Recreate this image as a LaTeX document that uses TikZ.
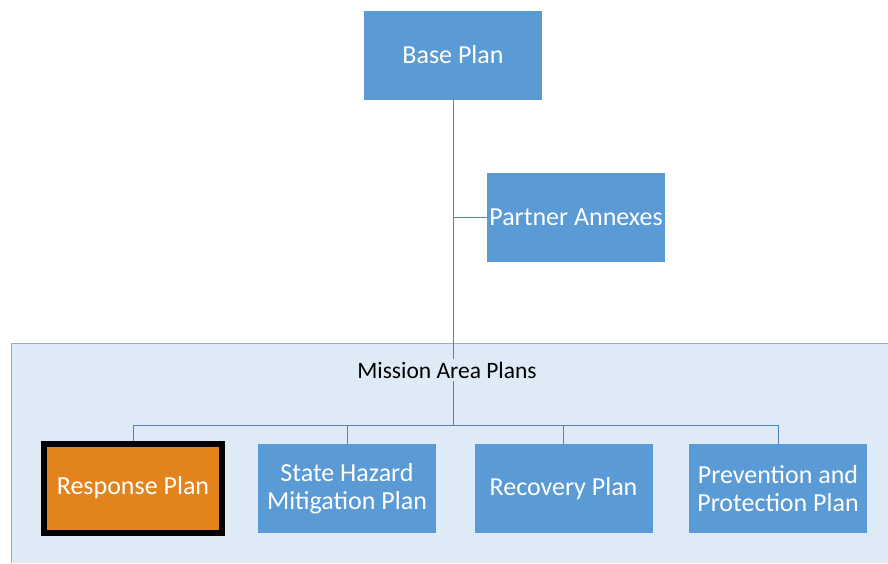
\documentclass[tikz,border=0pt]{standalone}
\usepackage{fontspec}
\setmainfont{Carlito}
\usetikzlibrary{positioning,calc}
\definecolor{planblue}{RGB}{91,155,213}
\definecolor{planorange}{RGB}{226,131,30}
\definecolor{linkblue}{RGB}{84,130,180}
\definecolor{panelfill}{RGB}{222,234,246}
\definecolor{paneledge}{RGB}{150,175,205}

\begin{document}
\begin{tikzpicture}[x=1pt, y=-1pt,
  planbox/.style={fill=planblue, text=white, minimum width=178pt, minimum height=89pt,
    inner sep=0pt, align=center, font=\fontsize{26}{28}\selectfont},
  subplan/.style={planbox, font=\fontsize{26}{28}\selectfont},
  link/.style={linkblue, line width=0.9pt}]

\useasboundingbox (0,0) rectangle (888,563);

% Mission area panel
\fill[panelfill] (11,343) rectangle (888,563);
\draw[paneledge, line width=0.9pt] (888,343) -- (11,343) -- (11,563);

% Top level
\node[planbox] (base) at (453,55) {Base Plan};
\node[planbox] (annex) at (576,217.5) {Partner Annexes};

% Trunk and branch
\coordinate (bus) at (453,425);
\draw[link] (base.south) -- (bus);
\draw[link] (base.south |- annex.west) -- (annex.west);

% Panel title
\node[fill=panelfill, inner sep=3pt, font=\fontsize{23.5}{26}\selectfont] (mission) at (447,370) {Mission Area Plans};

% Mission area plans
\node[subplan, fill=planorange, draw=black, line width=6pt] (response) at (133,488) {Response Plan};
\node[subplan] (hazard) at (347,488.5) {State Hazard\\Mitigation Plan};
\node[subplan] (recovery) at (563.5,488.5) {Recovery Plan};
\node[subplan] (prevention) at (778,488.5) {Prevention and\\Protection Plan};

\draw[link] (response.north |- bus) -- (prevention.north |- bus);
\foreach \p in {response,hazard,recovery,prevention}
  \draw[link] (\p.north |- bus) -- (\p.north);

\end{tikzpicture}
\end{document}
